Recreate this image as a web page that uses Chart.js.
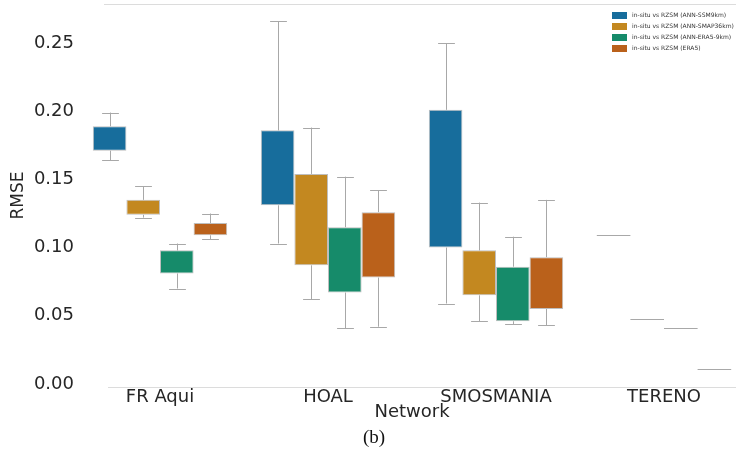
<!DOCTYPE html>
<html>
<head>
<meta charset="utf-8">
<script src="https://cdn.jsdelivr.net/npm/chart.js@4.4.0/dist/chart.umd.min.js"></script>
<style>
  html, body { margin: 0; padding: 0; background: #fff; overflow: hidden; }
  #wrap { width: 736px; height: 455px; overflow: hidden; }
</style>
</head>
<body>
<div id="wrap"><canvas id="myChart" width="770" height="455"></canvas></div>
<script>
const networks = ['FR Aqui', 'HOAL', 'SMOSMANIA', 'TERENO'];
const seriesLabels = [
  'in-situ vs RZSM (ANN-SSM9km)',
  'in-situ vs RZSM (ANN-SMAP36km)',
  'in-situ vs RZSM (ANN-ERA5-9km)',
  'in-situ vs RZSM (ERA5)'
];
const yTicks = [0, 0.05, 0.1, 0.15, 0.2, 0.25];

// box plot stats per series, one value per network
const ssmMin = [0.164, 0.103, 0.059, 0.109];
const ssmQ1  = [0.171, 0.131, 0.100, 0.109];
const ssmQ3  = [0.189, 0.186, 0.201, 0.109];
const ssmMax = [0.199, 0.266, 0.250, 0.109];

const smapMin = [0.122, 0.062, 0.046, 0.048];
const smapQ1  = [0.124, 0.087, 0.065, 0.048];
const smapQ3  = [0.135, 0.154, 0.098, 0.048];
const smapMax = [0.145, 0.188, 0.133, 0.048];

const era9Min = [0.070, 0.041, 0.044, 0.041];
const era9Q1  = [0.081, 0.067, 0.046, 0.041];
const era9Q3  = [0.098, 0.115, 0.086, 0.041];
const era9Max = [0.103, 0.152, 0.108, 0.041];

const era5Min = [0.106, 0.042, 0.043, 0.011];
const era5Q1  = [0.109, 0.078, 0.055, 0.011];
const era5Q3  = [0.118, 0.126, 0.093, 0.011];
const era5Max = [0.125, 0.142, 0.135, 0.011];

const boxColors = ['#176d9c', '#c38820', '#168b6a', '#ba611b'];
const FONT = '"DejaVu Sans", sans-serif';

const stats = [
  [ssmMin, ssmQ1, ssmQ3, ssmMax],
  [smapMin, smapQ1, smapQ3, smapMax],
  [era9Min, era9Q1, era9Q3, era9Max],
  [era5Min, era5Q1, era5Q3, era5Max]
];

const datasets = stats.map((s, i) => ({
  label: seriesLabels[i],
  backgroundColor: boxColors[i],
  borderColor: 'rgba(70,70,70,0.35)',
  borderWidth: 1,
  borderSkipped: false,
  whiskerMin: s[0],
  whiskerMax: s[3],
  data: s[1].map((q1, j) => [q1, s[2][j]])
}));

// whiskers + caps, drawn under the boxes
const whiskers = {
  id: 'whiskers',
  beforeDatasetsDraw(chart) {
    const ctx = chart.ctx, y = chart.scales.y;
    ctx.save();
    ctx.strokeStyle = '#a8a8a8';
    ctx.lineWidth = 1;
    chart.data.datasets.forEach((ds, i) => {
      chart.getDatasetMeta(i).data.forEach((bar, j) => {
        const x = Math.round(bar.x) + 0.5;
        const half = bar.width / 4;
        const lo = y.getPixelForValue(ds.whiskerMin[j]);
        const hi = y.getPixelForValue(ds.whiskerMax[j]);
        const q1 = y.getPixelForValue(ds.data[j][0]);
        const q3 = y.getPixelForValue(ds.data[j][1]);
        ctx.beginPath();
        ctx.moveTo(x, lo); ctx.lineTo(x, q1);
        ctx.moveTo(x, q3); ctx.lineTo(x, hi);
        ctx.moveTo(x - half, Math.round(lo) + 0.5); ctx.lineTo(x + half, Math.round(lo) + 0.5);
        ctx.moveTo(x - half, Math.round(hi) + 0.5); ctx.lineTo(x + half, Math.round(hi) + 0.5);
        ctx.stroke();
      });
    });
    ctx.restore();
  },
  afterDatasetsDraw(chart) {
    // boxes with no height show as a grey line
    const ctx = chart.ctx, y = chart.scales.y;
    ctx.save();
    ctx.strokeStyle = '#a8a8a8';
    ctx.lineWidth = 1;
    chart.data.datasets.forEach((ds, i) => {
      chart.getDatasetMeta(i).data.forEach((bar, j) => {
        if (ds.data[j][0] !== ds.data[j][1]) return;
        const py = Math.round(y.getPixelForValue(ds.data[j][0])) + 0.5;
        ctx.beginPath();
        ctx.moveTo(bar.x - bar.width / 2, py);
        ctx.lineTo(bar.x + bar.width / 2, py);
        ctx.stroke();
      });
    });
    ctx.restore();
  }
};

const decor = {
  id: 'decor',
  afterDraw(chart) {
    const ctx = chart.ctx, a = chart.chartArea;
    ctx.save();
    // frame lines
    ctx.strokeStyle = '#dcdcdc';
    ctx.lineWidth = 1;
    ctx.beginPath();
    ctx.moveTo(a.left + 28, a.top + 0.5); ctx.lineTo(a.right, a.top + 0.5);
    ctx.moveTo(a.left + 32, a.bottom + 0.5); ctx.lineTo(a.right, a.bottom + 0.5);
    ctx.stroke();
    // legend
    ctx.font = '6px ' + FONT;
    ctx.textBaseline = 'middle';
    chart.data.datasets.forEach((ds, i) => {
      const ly = 15 + i * 11;
      ctx.fillStyle = ds.backgroundColor;
      ctx.fillRect(612, ly - 3, 15, 7);
      ctx.fillStyle = '#333';
      ctx.fillText(ds.label, 632, ly);
    });
    // caption
    ctx.font = '19px "Liberation Serif", serif';
    ctx.fillStyle = '#111';
    ctx.textAlign = 'center';
    ctx.fillText('(b)', 374, 438);
    ctx.restore();
  }
};

const noPad = s => { s.paddingTop = 0; s.paddingBottom = 0; s.paddingLeft = 0; s.paddingRight = 0; };

new Chart(document.getElementById('myChart').getContext('2d'), {
  type: 'bar',
  data: { labels: networks, datasets: datasets },
  options: {
    responsive: false,
    animation: false,
    layout: { padding: { left: 0, right: 22, top: 4, bottom: 0 } },
    datasets: { bar: { categoryPercentage: 0.8, barPercentage: 1.0 } },
    plugins: { legend: { display: false }, tooltip: { enabled: false } },
    scales: {
      x: {
        afterFit: s => { s.height = 68; noPad(s); },
        grid: { display: false, drawTicks: false },
        border: { display: false },
        ticks: { padding: 0, maxRotation: 0, autoSkip: false, color: '#262626', font: { family: FONT, size: 18 } },
        title: { display: true, text: 'Network', color: '#262626', font: { family: FONT, size: 18 }, padding: { top: 0, bottom: 32 } }
      },
      y: {
        min: -0.0022,
        max: 0.2786,
        afterBuildTicks: s => { s.ticks = yTicks.map(v => ({ value: v })); },
        afterFit: s => { s.width = 76; noPad(s); },
        grid: { display: false, drawTicks: false },
        border: { display: false },
        ticks: { padding: 2, color: '#262626', font: { family: FONT, size: 18 }, callback: v => v.toFixed(2) },
        title: { display: true, text: 'RMSE', color: '#262626', font: { family: FONT, size: 17 }, padding: { top: 8, bottom: 0 } }
      }
    }
  },
  plugins: [whiskers, decor]
});
</script>
</body>
</html>
